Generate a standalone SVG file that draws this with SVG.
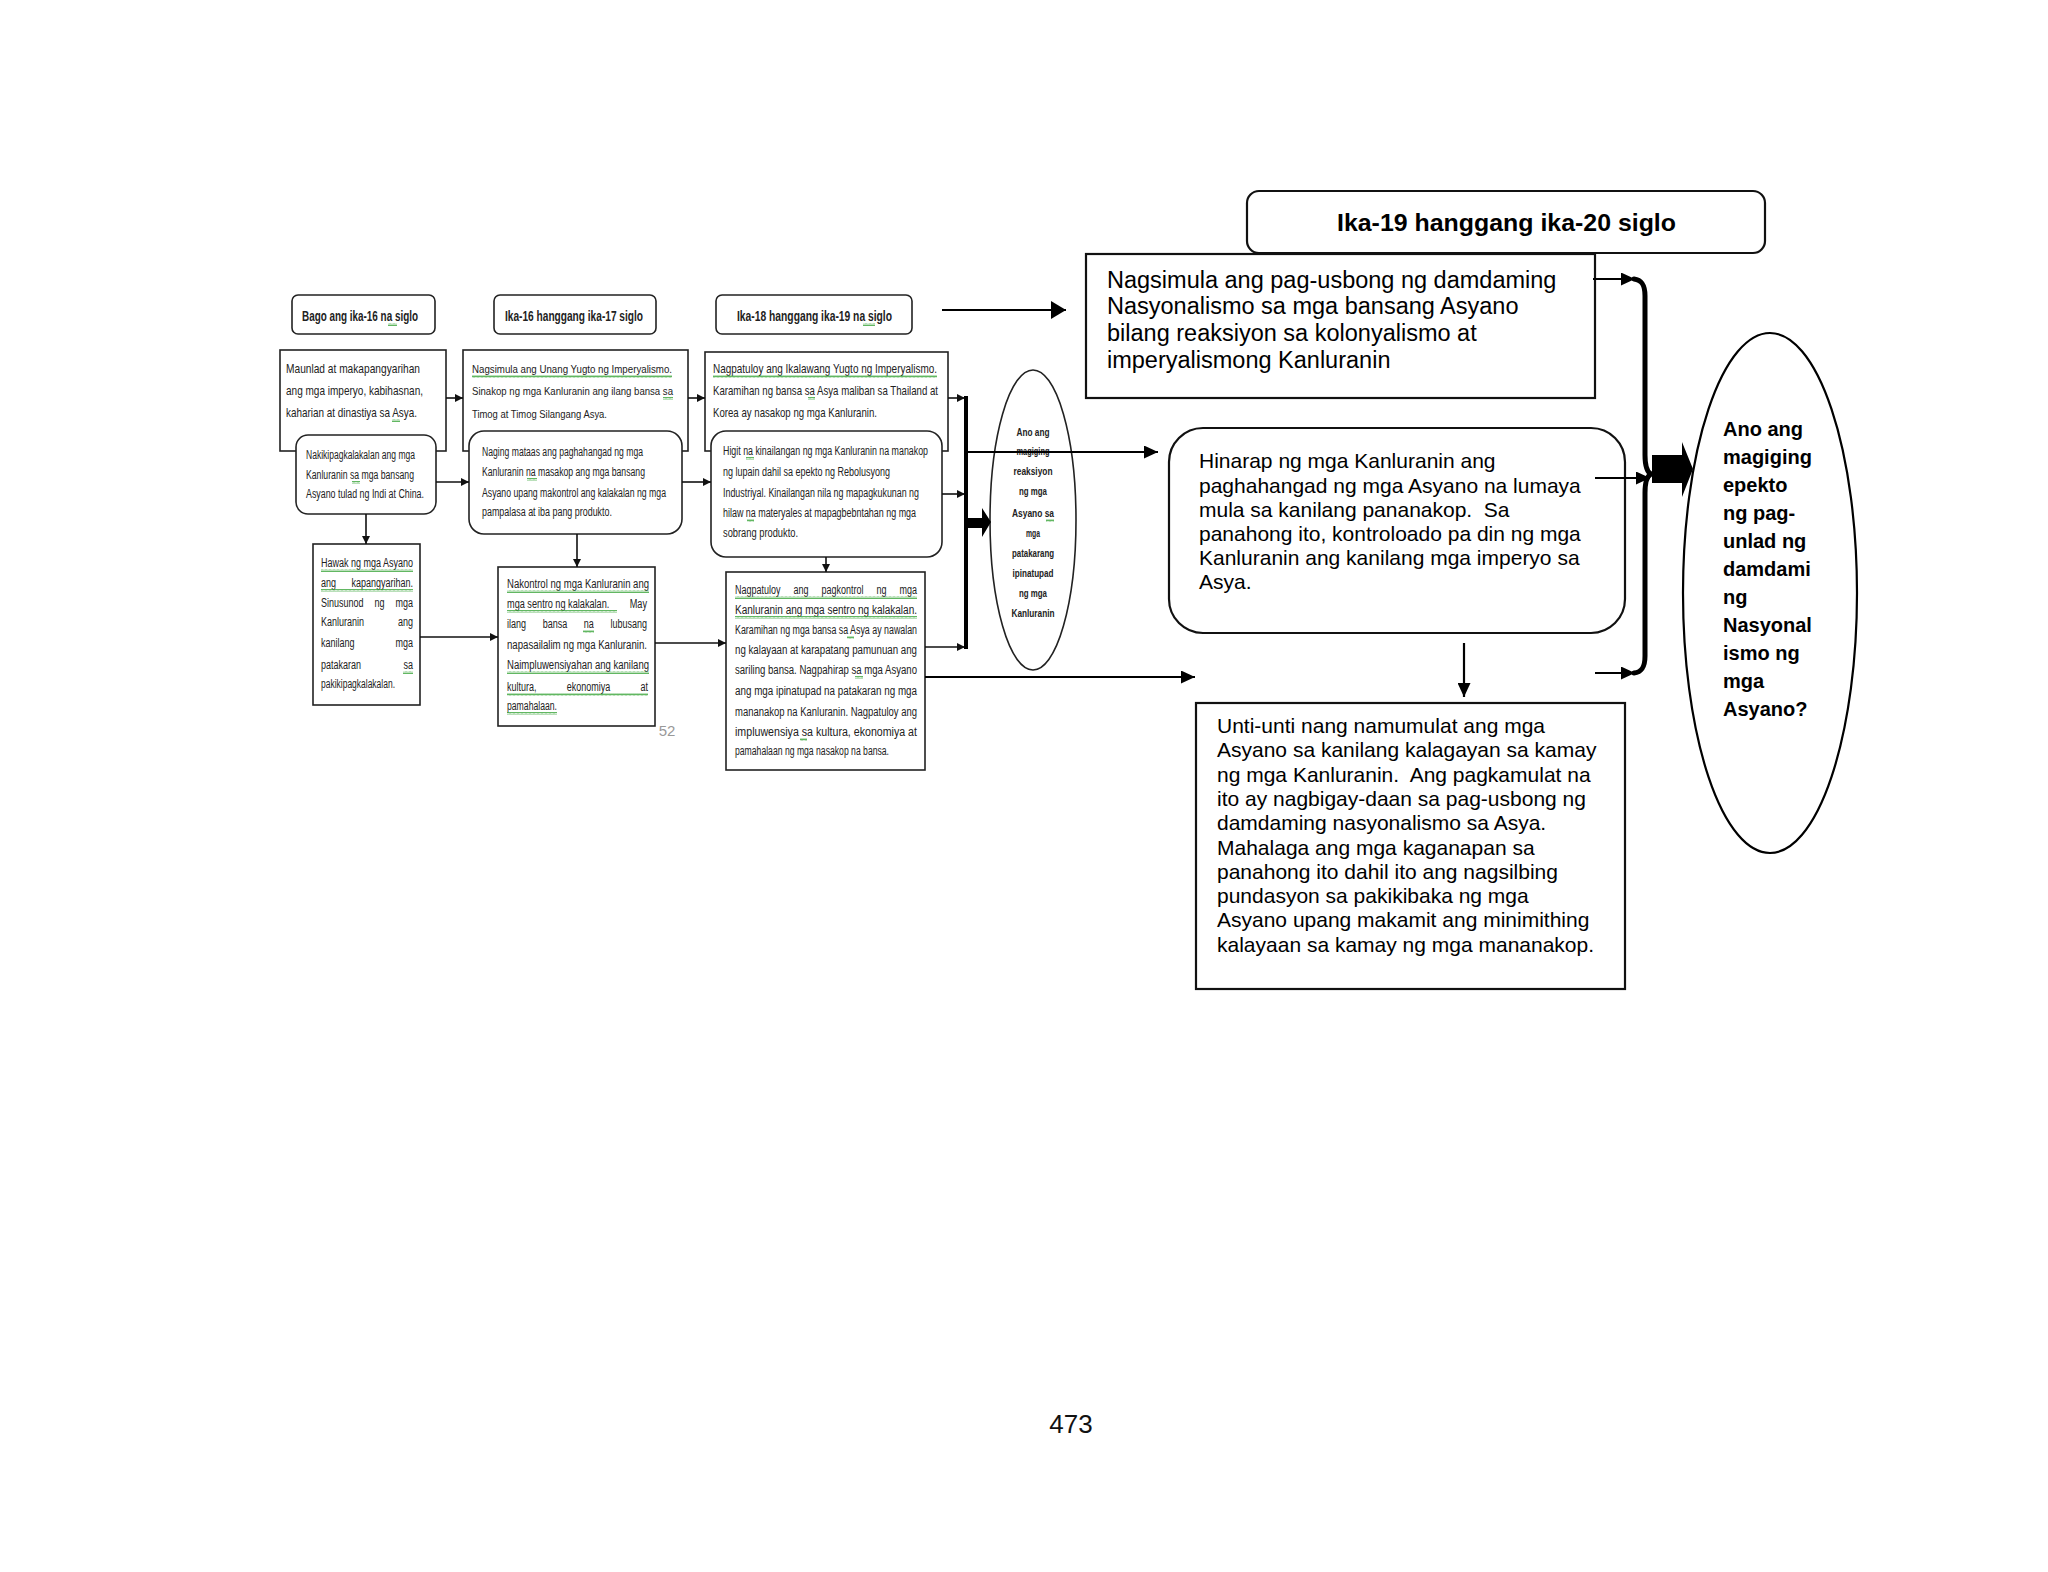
<svg xmlns="http://www.w3.org/2000/svg" width="2048" height="1572" viewBox="0 0 2048 1572">
<style>
.bx{fill:#fff;stroke:#222;stroke-width:1.6}
.bxr{fill:#fff;stroke:#111;stroke-width:2.2}
.hd{font-family:"Liberation Sans",Arial,sans-serif;font-weight:bold;font-size:15px;fill:#222}
.t1{font-family:"Liberation Sans",Arial,sans-serif;font-size:13.5px;fill:#222}
.t1s{font-family:"Liberation Sans",Arial,sans-serif;font-size:11.5px;fill:#222}
.t2{font-family:"Liberation Sans",Arial,sans-serif;font-size:12px;fill:#222}
.t3{font-family:"Liberation Sans",Arial,sans-serif;font-size:12.5px;fill:#222}
.te{font-family:"Liberation Sans",Arial,sans-serif;font-weight:bold;font-size:11px;fill:#222;text-anchor:middle}
.r1{font-family:"Liberation Sans",Arial,sans-serif;font-size:23.5px;fill:#000}
.r2{font-family:"Liberation Sans",Arial,sans-serif;font-size:21px;fill:#000}
.rb{font-family:"Liberation Sans",Arial,sans-serif;font-size:20px;font-weight:bold;fill:#000}
.c{fill:none;stroke:#111;stroke-width:1.6}
.cr{fill:none;stroke:#000;stroke-width:2.2}
.sq{fill:url(#sq)}
</style>
<defs>
<pattern id="sq" width="4" height="3" patternUnits="userSpaceOnUse"><path d="M0,2.5 L1,0.5 L2,2.5 L3,0.5 L4,2.5" stroke="#3aa53a" fill="none" stroke-width="0.8"/></pattern>
<marker id="as" markerUnits="userSpaceOnUse" markerWidth="8" markerHeight="8" viewBox="0 0 8 8" refX="8" refY="4" orient="auto"><path d="M0,0 L8,4 L0,8 z" fill="#111"/></marker>
<marker id="am" markerUnits="userSpaceOnUse" markerWidth="14" markerHeight="13" viewBox="0 0 14 13" refX="14" refY="6.5" orient="auto"><path d="M0,0 L14,6.5 L0,13 z" fill="#000"/></marker>
<marker id="al" markerUnits="userSpaceOnUse" markerWidth="15" markerHeight="18" viewBox="0 0 15 18" refX="15" refY="9" orient="auto"><path d="M0,0 L15,9 L0,18 z" fill="#000"/></marker>
</defs>
<rect width="2048" height="1572" fill="#fff"/>

<g id="hdr1"><rect class="bx" x="292" y="295" width="143" height="39" rx="6"/><text class="hd" x="302" y="321" textLength="116" lengthAdjust="spacingAndGlyphs">Bago ang ika-16 na siglo</text><rect class="sq" x="388" y="323" width="9" height="3"/></g>
<g id="hdr2"><rect class="bx" x="494" y="295" width="162" height="39" rx="6"/><text class="hd" x="505" y="321" textLength="138" lengthAdjust="spacingAndGlyphs">Ika-16 hanggang ika-17 siglo</text></g>
<g id="hdr3"><rect class="bx" x="716" y="295" width="196" height="39" rx="6"/><text class="hd" x="737" y="321" textLength="155" lengthAdjust="spacingAndGlyphs">Ika-18 hanggang ika-19 na siglo</text><rect class="sq" x="863" y="323" width="12" height="3"/></g>

<g id="maunlad"><rect class="bx" x="280" y="350" width="166" height="101"/>
<text class="t1" x="286" y="373" textLength="134" lengthAdjust="spacingAndGlyphs">Maunlad at makapangyarihan</text>
<text class="t1" x="286" y="395" textLength="137" lengthAdjust="spacingAndGlyphs">ang mga imperyo, kabihasnan,</text>
<text class="t1" x="286" y="417" textLength="131" lengthAdjust="spacingAndGlyphs">kaharian at dinastiya sa Asya.</text>
<rect class="sq" x="392" y="419" width="8" height="3"/></g>

<g id="nagsimula1"><rect class="bx" x="463" y="350" width="225" height="101"/>
<text class="t1s" x="472" y="373" textLength="200" lengthAdjust="spacingAndGlyphs">Nagsimula ang Unang Yugto ng Imperyalismo.</text>
<text class="t1s" x="472" y="395" textLength="201" lengthAdjust="spacingAndGlyphs">Sinakop ng mga Kanluranin ang ilang bansa sa</text>
<text class="t1s" x="472" y="418" textLength="135" lengthAdjust="spacingAndGlyphs">Timog at Timog Silangang Asya.</text>
<rect class="sq" x="472" y="375" width="200" height="3"/><rect class="sq" x="663" y="397" width="10" height="3"/></g>

<g id="nagpatuloy1"><rect class="bx" x="705" y="352" width="243" height="99"/>
<text class="t1" x="713" y="373" textLength="224" lengthAdjust="spacingAndGlyphs">Nagpatuloy ang Ikalawang Yugto ng Imperyalismo.</text>
<text class="t1" x="713" y="395" textLength="225" lengthAdjust="spacingAndGlyphs">Karamihan ng bansa sa Asya maliban sa Thailand at</text>
<text class="t1" x="713" y="417" textLength="164" lengthAdjust="spacingAndGlyphs">Korea ay nasakop ng mga Kanluranin.</text>
<rect class="sq" x="713" y="375" width="224" height="3"/><rect class="sq" x="808" y="397" width="7" height="3"/></g>

<g id="nakikipag"><rect class="bx" x="296" y="435" width="140" height="79" rx="12"/>
<text class="t2" x="306" y="459" textLength="109" lengthAdjust="spacingAndGlyphs">Nakikipagkalakalan  ang mga</text>
<text class="t2" x="306" y="479" textLength="108" lengthAdjust="spacingAndGlyphs">Kanluranin sa mga bansang</text>
<text class="t2" x="306" y="498" textLength="118" lengthAdjust="spacingAndGlyphs">Asyano tulad ng Indi at China.</text>
<rect class="sq" x="352" y="481" width="8" height="3"/></g>

<g id="naging"><rect class="bx" x="469" y="431" width="213" height="103" rx="15"/>
<text class="t2" x="482" y="456" textLength="161" lengthAdjust="spacingAndGlyphs">Naging mataas ang paghahangad  ng mga</text>
<text class="t2" x="482" y="476" textLength="163" lengthAdjust="spacingAndGlyphs">Kanluranin na masakop ang mga bansang</text>
<text class="t2" x="482" y="497" textLength="184" lengthAdjust="spacingAndGlyphs">Asyano upang makontrol ang kalakalan ng mga</text>
<text class="t2" x="482" y="516" textLength="130" lengthAdjust="spacingAndGlyphs">pampalasa at iba pang produkto.</text>
<rect class="sq" x="527" y="478" width="10" height="3"/></g>

<g id="higit"><rect class="bx" x="711" y="431" width="231" height="126" rx="15"/>
<text class="t2" x="723" y="455" textLength="205" lengthAdjust="spacingAndGlyphs">Higit na kinailangan ng mga Kanluranin na manakop</text>
<text class="t2" x="723" y="476" textLength="167" lengthAdjust="spacingAndGlyphs">ng lupain dahil sa epekto ng Rebolusyong</text>
<text class="t2" x="723" y="497" textLength="196" lengthAdjust="spacingAndGlyphs">Industriyal. Kinailangan nila ng mapagkukunan ng</text>
<text class="t2" x="723" y="517" textLength="193" lengthAdjust="spacingAndGlyphs">hilaw na materyales at mapagbebntahan ng mga</text>
<text class="t2" x="723" y="537" textLength="75" lengthAdjust="spacingAndGlyphs">sobrang produkto.</text>
<rect class="sq" x="746" y="457" width="8" height="3"/><rect class="sq" x="747" y="519" width="7" height="3"/></g>

<g id="hawak"><rect class="bx" x="313" y="544" width="107" height="161"/>
<text class="t3" x="321" y="567" textLength="92" lengthAdjust="spacingAndGlyphs">Hawak ng mga Asyano</text>
<text class="t3" x="321" y="587" textLength="92" lengthAdjust="spacingAndGlyphs" style="word-spacing:18px">ang kapangyarihan.</text>
<text class="t3" x="321" y="607" textLength="92" lengthAdjust="spacingAndGlyphs" style="word-spacing:11.8px">Sinusunod ng mga</text>
<text class="t3" x="321" y="626" textLength="92" lengthAdjust="spacingAndGlyphs" style="word-spacing:43.7px">Kanluranin ang</text>
<text class="t3" x="321" y="647" textLength="92" lengthAdjust="spacingAndGlyphs" style="word-spacing:53.5px">kanilang mga</text>
<text class="t3" x="321" y="669" textLength="92" lengthAdjust="spacingAndGlyphs" style="word-spacing:55.5px">patakaran sa</text>
<text class="t3" x="321" y="688" textLength="74" lengthAdjust="spacingAndGlyphs">pakikipagkalakalan.</text>
<rect class="sq" x="321" y="569" width="92" height="3"/><rect class="sq" x="321" y="589" width="92" height="3"/><rect class="sq" x="403" y="671" width="10" height="3"/></g>

<g id="nakontrol"><rect class="bx" x="498" y="567" width="157" height="159"/>
<text class="t3" x="507" y="588" textLength="142" lengthAdjust="spacingAndGlyphs">Nakontrol ng mga Kanluranin ang</text>
<text class="t3" x="507" y="608" textLength="140" lengthAdjust="spacingAndGlyphs" xml:space="preserve">mga sentro ng kalakalan.        May</text>
<text class="t3" x="507" y="628" textLength="140" lengthAdjust="spacingAndGlyphs" style="word-spacing:19.6px">ilang bansa na lubusang</text>
<text class="t3" x="507" y="649" textLength="140" lengthAdjust="spacingAndGlyphs">napasailalim ng mga Kanluranin.</text>
<text class="t3" x="507" y="669" textLength="142" lengthAdjust="spacingAndGlyphs">Naimpluwensiyahan ang kanilang</text>
<text class="t3" x="507" y="691" textLength="141" lengthAdjust="spacingAndGlyphs" style="word-spacing:38.5px">kultura, ekonomiya at</text>
<text class="t3" x="507" y="710" textLength="50" lengthAdjust="spacingAndGlyphs">pamahalaan.</text>
<rect class="sq" x="507" y="590" width="142" height="3"/><rect class="sq" x="507" y="610" width="110" height="3"/><rect class="sq" x="583" y="630" width="11" height="3"/><rect class="sq" x="507" y="671" width="142" height="3"/><rect class="sq" x="507" y="693" width="141" height="3"/><rect class="sq" x="507" y="712" width="50" height="3"/></g>
<text x="667" y="736" font-family="Liberation Sans, Arial, sans-serif" font-size="15" fill="#999" text-anchor="middle">52</text>

<g id="nagpatuloy2"><rect class="bx" x="726" y="572" width="199" height="198"/>
<text class="t3" x="735" y="594" textLength="182" lengthAdjust="spacingAndGlyphs" style="word-spacing:14.6px">Nagpatuloy ang pagkontrol ng mga</text>
<text class="t3" x="735" y="614" textLength="182" lengthAdjust="spacingAndGlyphs">Kanluranin ang mga sentro ng kalakalan.</text>
<text class="t3" x="735" y="634" textLength="182" lengthAdjust="spacingAndGlyphs">Karamihan ng mga bansa sa Asya ay nawalan</text>
<text class="t3" x="735" y="654" textLength="182" lengthAdjust="spacingAndGlyphs">ng kalayaan at karapatang pamunuan ang</text>
<text class="t3" x="735" y="674" textLength="182" lengthAdjust="spacingAndGlyphs">sariling bansa.  Nagpahirap sa mga Asyano</text>
<text class="t3" x="735" y="695" textLength="182" lengthAdjust="spacingAndGlyphs">ang mga ipinatupad na patakaran ng mga</text>
<text class="t3" x="735" y="716" textLength="182" lengthAdjust="spacingAndGlyphs">mananakop na Kanluranin.  Nagpatuloy ang</text>
<text class="t3" x="735" y="736" textLength="182" lengthAdjust="spacingAndGlyphs">impluwensiya sa kultura, ekonomiya at</text>
<text class="t3" x="735" y="755" textLength="154" lengthAdjust="spacingAndGlyphs">pamahalaan ng mga nasakop na bansa.</text>
<rect class="sq" x="735" y="596" width="182" height="3"/><rect class="sq" x="735" y="616" width="182" height="3"/><rect class="sq" x="847" y="636" width="7" height="3"/><rect class="sq" x="855" y="676" width="8" height="3"/><rect class="sq" x="800" y="738" width="7" height="3"/></g>

<g id="reaksiyon"><ellipse cx="1033" cy="520" rx="43" ry="150" fill="#fff" stroke="#222" stroke-width="1.6"/>
<text class="te" x="1033" y="436" textLength="33" lengthAdjust="spacingAndGlyphs">Ano ang</text>
<text class="te" x="1033" y="455" textLength="33" lengthAdjust="spacingAndGlyphs">magiging</text>
<text class="te" x="1033" y="475" textLength="39" lengthAdjust="spacingAndGlyphs">reaksiyon</text>
<text class="te" x="1033" y="495" textLength="28" lengthAdjust="spacingAndGlyphs">ng mga</text>
<text class="te" x="1033" y="517" textLength="42" lengthAdjust="spacingAndGlyphs">Asyano sa</text>
<text class="te" x="1033" y="537" textLength="14" lengthAdjust="spacingAndGlyphs">mga</text>
<text class="te" x="1033" y="557" textLength="42" lengthAdjust="spacingAndGlyphs">patakarang</text>
<text class="te" x="1033" y="577" textLength="41" lengthAdjust="spacingAndGlyphs">ipinatupad</text>
<text class="te" x="1033" y="597" textLength="28" lengthAdjust="spacingAndGlyphs">ng mga</text>
<text class="te" x="1033" y="617" textLength="43" lengthAdjust="spacingAndGlyphs">Kanluranin</text>
<rect class="sq" x="1046" y="519" width="8" height="3"/></g>

<g id="hdr4"><rect class="bxr" x="1247" y="191" width="518" height="62" rx="12"/><text x="1337" y="231" font-family="Liberation Sans, Arial, sans-serif" font-weight="bold" font-size="24" textLength="339" lengthAdjust="spacingAndGlyphs">Ika-19 hanggang ika-20 siglo</text></g>

<g id="nagsimula2"><rect class="bxr" x="1086" y="254" width="509" height="144"/>
<text class="r1" x="1107" y="288">Nagsimula ang pag-usbong ng damdaming</text>
<text class="r1" x="1107" y="314">Nasyonalismo sa mga bansang Asyano</text>
<text class="r1" x="1107" y="341">bilang reaksiyon sa kolonyalismo at</text>
<text class="r1" x="1107" y="368">imperyalismong Kanluranin</text></g>

<g id="hinarap"><rect class="bxr" x="1169" y="428" width="456" height="205" rx="34"/>
<text class="r2" x="1199" y="468">Hinarap ng mga Kanluranin ang</text>
<text class="r2" x="1199" y="493">paghahangad ng mga Asyano na lumaya</text>
<text class="r2" x="1199" y="517" xml:space="preserve">mula sa kanilang pananakop.  Sa</text>
<text class="r2" x="1199" y="541">panahong ito, kontroloado pa din ng mga</text>
<text class="r2" x="1199" y="565">Kanluranin ang kanilang mga imperyo sa</text>
<text class="r2" x="1199" y="589">Asya.</text></g>

<g id="untiunti"><rect class="bxr" x="1196" y="703" width="429" height="286"/>
<text class="r2" x="1217" y="733">Unti-unti nang namumulat ang mga</text>
<text class="r2" x="1217" y="757">Asyano sa kanilang kalagayan sa kamay</text>
<text class="r2" x="1217" y="782" xml:space="preserve">ng mga Kanluranin.  Ang pagkamulat na</text>
<text class="r2" x="1217" y="806">ito ay nagbigay-daan sa pag-usbong ng</text>
<text class="r2" x="1217" y="830">damdaming nasyonalismo sa Asya.</text>
<text class="r2" x="1217" y="855">Mahalaga ang mga kaganapan sa</text>
<text class="r2" x="1217" y="879">panahong ito dahil ito ang nagsilbing</text>
<text class="r2" x="1217" y="903">pundasyon sa pakikibaka ng mga</text>
<text class="r2" x="1217" y="927">Asyano upang makamit ang minimithing</text>
<text class="r2" x="1217" y="952">kalayaan sa kamay ng mga mananakop.</text></g>

<g id="epekto"><ellipse cx="1770" cy="593" rx="87" ry="260" fill="#fff" stroke="#000" stroke-width="2.2"/>
<text class="rb" x="1723" y="436">Ano ang</text>
<text class="rb" x="1723" y="464">magiging</text>
<text class="rb" x="1723" y="492">epekto</text>
<text class="rb" x="1723" y="520">ng pag-</text>
<text class="rb" x="1723" y="548">unlad ng</text>
<text class="rb" x="1723" y="576">damdami</text>
<text class="rb" x="1723" y="604">ng</text>
<text class="rb" x="1723" y="632">Nasyonal</text>
<text class="rb" x="1723" y="660">ismo ng</text>
<text class="rb" x="1723" y="688">mga</text>
<text class="rb" x="1723" y="716">Asyano?</text></g>

<text x="1071" y="1433" font-family="Liberation Sans, Arial, sans-serif" font-size="26" fill="#111" text-anchor="middle">473</text>

<g id="connectors">
<path class="c" d="M446,398 H463" marker-end="url(#as)"/>
<path class="c" d="M688,398 H705" marker-end="url(#as)"/>
<path class="c" d="M948,398 H965" marker-end="url(#as)"/>
<path class="c" d="M436,482 H469" marker-end="url(#as)"/>
<path class="c" d="M682,482 H711" marker-end="url(#as)"/>
<path class="c" d="M942,494 H965" marker-end="url(#as)"/>
<path class="c" d="M366,514 V544" marker-end="url(#as)"/>
<path class="c" d="M577,534 V567" marker-end="url(#as)"/>
<path class="c" d="M826,557 V572" marker-end="url(#as)"/>
<path class="c" d="M420,637 H498" marker-end="url(#as)"/>
<path class="c" d="M655,643 H726" marker-end="url(#as)"/>
<path class="c" d="M925,647 H965" marker-end="url(#as)"/>
<path d="M966,396 V649" stroke="#000" stroke-width="4" fill="none"/>
<polygon points="967,518 982,518 982,508 991,522 982,537 982,528 967,528" fill="#000"/>
<path class="cr" d="M966,452 H1158" marker-end="url(#am)"/>
<path class="cr" d="M925,677 H1195" marker-end="url(#am)"/>
<path class="cr" d="M942,310 H1066" marker-end="url(#al)"/>
<path class="cr" d="M1593,279 H1635" marker-end="url(#am)"/>
<path class="cr" d="M1595,478 H1650" marker-end="url(#am)"/>
<path class="cr" d="M1595,673 H1635" marker-end="url(#am)"/>
<path class="cr" d="M1464,643 V697" marker-end="url(#am)"/>
<path d="M1634,279 C1642,280 1645,285 1645,296 L1645,455 C1645,467 1647,472 1651,474 C1647,476 1645,481 1645,493 L1645,656 C1645,667 1642,672 1634,673" fill="none" stroke="#000" stroke-width="5" stroke-linecap="round"/>
<polygon points="1652,455 1682,455 1682,442 1693,469 1682,497 1682,483 1652,483" fill="#000"/>
</g>
</svg>
